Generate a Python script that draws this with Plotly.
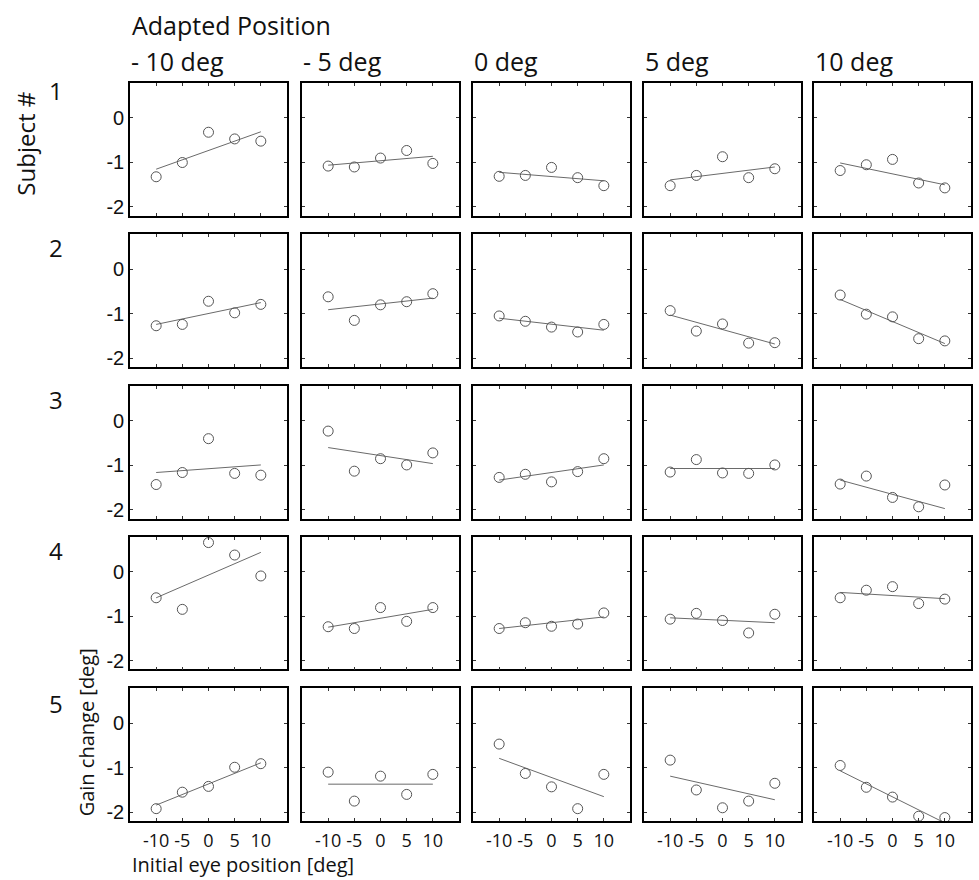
import plotly.graph_objects as go

W, H = 979, 880

# ---- data ----
eye_positions = [-10, -5, 0, 5, 10]
adapted_labels = ["- 10 deg", "- 5 deg", "0 deg", "5 deg", "10 deg"]
subject_labels = ["1", "2", "3", "4", "5"]
x_tick_vals = [-10, -5, 0, 5, 10]
x_tick_text = ["-10", "-5", "0", "5", "10"]
y_tick_vals = [0, -1, -2]
y_tick_text = ["0", "-1", "-2"]

# gain change per subject (row) and adapted position (column), 5 points each
subject1 = [
    [-1.33, -1.01, -0.33, -0.48, -0.53],
    [-1.09, -1.11, -0.91, -0.74, -1.03],
    [-1.32, -1.30, -1.12, -1.35, -1.53],
    [-1.53, -1.30, -0.88, -1.35, -1.15],
    [-1.19, -1.06, -0.94, -1.47, -1.58],
]
subject2 = [
    [-1.27, -1.24, -0.72, -0.98, -0.79],
    [-0.62, -1.15, -0.80, -0.73, -0.55],
    [-1.05, -1.17, -1.30, -1.41, -1.24],
    [-0.93, -1.39, -1.23, -1.66, -1.65],
    [-0.58, -1.01, -1.07, -1.56, -1.61],
]
subject3 = [
    [-1.43, -1.16, -0.40, -1.18, -1.22],
    [-0.23, -1.13, -0.85, -0.99, -0.72],
    [-1.27, -1.20, -1.37, -1.14, -0.85],
    [-1.15, -0.87, -1.17, -1.18, -0.99],
    [-1.42, -1.24, -1.72, -1.93, -1.44],
]
subject4 = [
    [-0.59, -0.85, 0.65, 0.37, -0.10],
    [-1.24, -1.28, -0.81, -1.12, -0.81],
    [-1.28, -1.15, -1.23, -1.18, -0.93],
    [-1.07, -0.94, -1.10, -1.38, -0.96],
    [-0.59, -0.42, -0.34, -0.72, -0.62],
]
subject5 = [
    [-1.92, -1.55, -1.42, -0.99, -0.91],
    [-1.10, -1.75, -1.19, -1.60, -1.15],
    [-0.47, -1.13, -1.43, -1.92, -1.15],
    [-0.83, -1.50, -1.90, -1.75, -1.35],
    [-0.95, -1.44, -1.66, -2.09, -2.12],
]
gain_data = [subject1, subject2, subject3, subject4, subject5]

# regression line values at eye position -10 and +10
fit_at_minus10 = [
    [-1.16, -1.07, -1.23, -1.40, -1.02],
    [-1.24, -0.91, -1.10, -1.03, -0.68],
    [-1.16, -0.60, -1.33, -1.07, -1.33],
    [-0.59, -1.25, -1.28, -1.04, -0.47],
    [-1.84, -1.37, -0.79, -1.19, -1.07],
]
fit_at_plus10 = [
    [-0.32, -0.87, -1.42, -1.11, -1.51],
    [-0.75, -0.65, -1.37, -1.68, -1.67],
    [-0.99, -0.96, -0.99, -1.07, -1.97],
    [0.43, -0.85, -1.02, -1.15, -0.61],
    [-0.89, -1.37, -1.65, -1.72, -2.24],
]
fit_x = [-10, 10]

# ---- layout geometry (pixels) ----
col_left = [130, 302, 473, 644, 814]
panel_w = 157
row_top = [83, 235, 387, 538, 690]
panel_h = 133


def px_x(x):
    return x / W


def px_y(y):
    return 1 - y / H


FONT_TITLE = "Open Sans"
GRAY_MARK = "#555555"
GRAY_LINE = "#6a6a6a"

fig = go.Figure()
layout_axes = {}
for r in range(5):
    for c in range(5):
        idx = r * 5 + c + 1
        xa = "x" if idx == 1 else f"x{idx}"
        ya = "y" if idx == 1 else f"y{idx}"
        fig.add_trace(go.Scatter(
            x=fit_x, y=[fit_at_minus10[r][c], fit_at_plus10[r][c]],
            mode="lines", line=dict(color=GRAY_LINE, width=1),
            xaxis=xa, yaxis=ya, showlegend=False, hoverinfo="skip"))
        fig.add_trace(go.Scatter(
            x=eye_positions, y=gain_data[r][c], mode="markers",
            marker=dict(symbol="circle-open", size=10,
                        color=GRAY_MARK, line=dict(width=1, color=GRAY_MARK)),
            xaxis=xa, yaxis=ya, showlegend=False))
        xkey = "xaxis" if idx == 1 else f"xaxis{idx}"
        ykey = "yaxis" if idx == 1 else f"yaxis{idx}"
        layout_axes[xkey] = dict(
            domain=[px_x(col_left[c]), px_x(col_left[c] + panel_w)],
            anchor=ya, range=[-15, 15],
            tickvals=x_tick_vals, ticktext=x_tick_text,
            showticklabels=(r == 4), tickangle=0, ticklabelstandoff=2,
            ticks="inside", ticklen=3, tickwidth=1, tickcolor="#333",
            showline=True, linecolor="black", linewidth=1.6, mirror="ticks",
            showgrid=False, zeroline=False,
            tickfont=dict(family=FONT_TITLE, size=18, color="#111"),
            fixedrange=True)
        layout_axes[ykey] = dict(
            domain=[px_y(row_top[r] + panel_h), px_y(row_top[r])],
            anchor=xa, range=[-2.2, 0.78],
            tickvals=y_tick_vals, ticktext=y_tick_text,
            showticklabels=(c == 0),
            ticks="inside", ticklen=3, tickwidth=1, tickcolor="#333",
            showline=True, linecolor="black", linewidth=1.6, mirror="ticks",
            showgrid=False, zeroline=False,
            tickfont=dict(family="Liberation Sans", size=20, color="#111"),
            fixedrange=True)

annotations = []
annotations.append(dict(text="Adapted Position", x=px_x(130), y=px_y(25),
                        xref="paper", yref="paper", xanchor="left", yanchor="middle",
                        showarrow=False, font=dict(family=FONT_TITLE, size=25, color="#111")))
for c, lab in enumerate(adapted_labels):
    annotations.append(dict(text=lab, x=px_x(col_left[c] - 1), y=px_y(61),
                            xref="paper", yref="paper", xanchor="left", yanchor="middle",
                            showarrow=False, font=dict(family=FONT_TITLE, size=25, color="#111")))
annotations.append(dict(text="Subject #", x=px_x(26), y=px_y(144), textangle=-90,
                        xref="paper", yref="paper", xanchor="center", yanchor="middle",
                        showarrow=False, font=dict(family=FONT_TITLE, size=24, color="#111")))
row_label_y = [91, 248, 400, 552, 705]
for r, lab in enumerate(subject_labels):
    annotations.append(dict(text=lab, x=px_x(56), y=px_y(row_label_y[r]),
                            xref="paper", yref="paper", xanchor="center", yanchor="middle",
                            showarrow=False, font=dict(family=FONT_TITLE, size=24, color="#111")))
annotations.append(dict(text="Gain change [deg]", x=px_x(86), y=px_y(734), textangle=-90,
                        xref="paper", yref="paper", xanchor="center", yanchor="middle",
                        showarrow=False, font=dict(family=FONT_TITLE, size=20, color="#111")))
annotations.append(dict(text="Initial eye position [deg]", x=px_x(130), y=px_y(866),
                        xref="paper", yref="paper", xanchor="left", yanchor="middle",
                        showarrow=False, font=dict(family=FONT_TITLE, size=20, color="#111")))

fig.update_layout(
    width=W, height=H,
    margin=dict(l=0, r=0, t=0, b=0),
    paper_bgcolor="white", plot_bgcolor="white",
    annotations=annotations,
    **layout_axes)

# the page body otherwise adds an 8px margin around the figure
fig.write_html("out.html", config={"displayModeBar": False},
               post_script="document.body.style.margin='0px';")
